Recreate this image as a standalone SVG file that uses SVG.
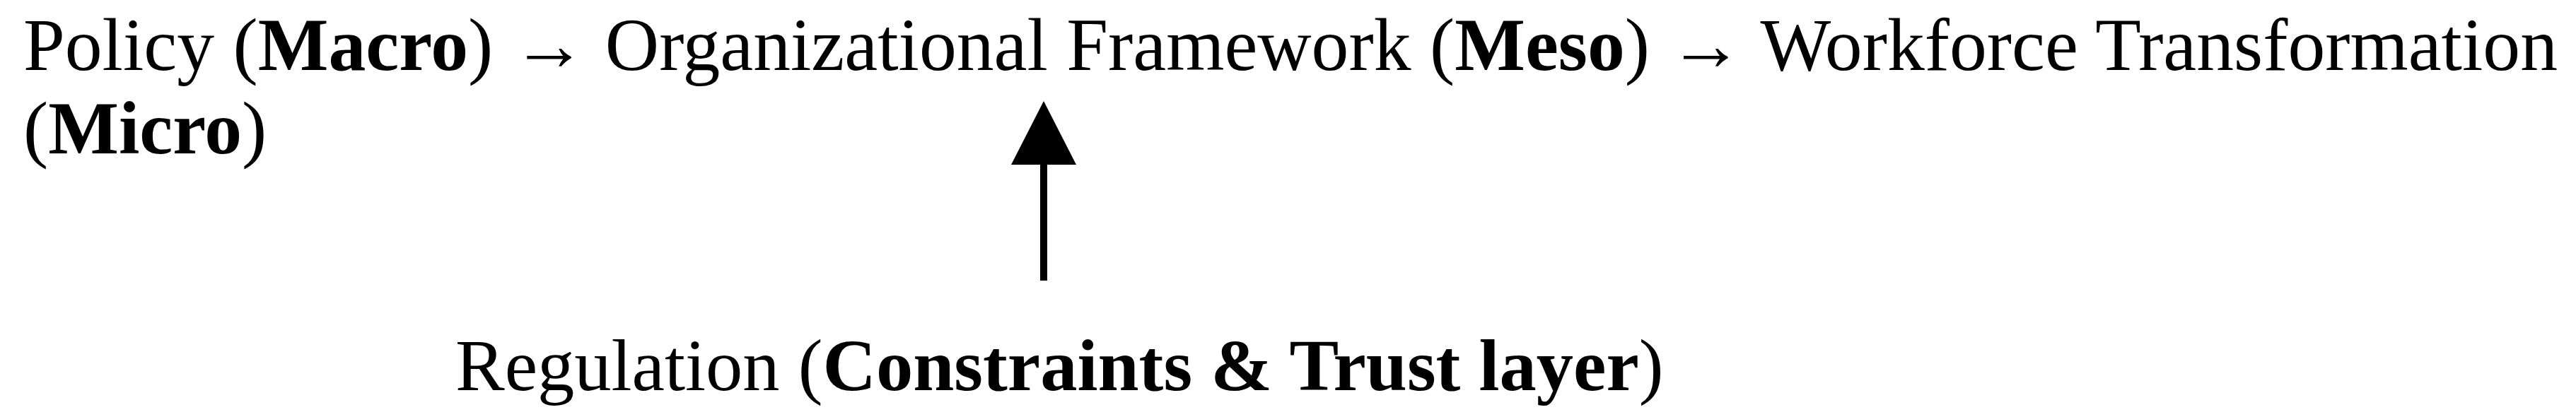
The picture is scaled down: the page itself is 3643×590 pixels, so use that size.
<svg xmlns="http://www.w3.org/2000/svg" width="3643" height="590" viewBox="0 0 3643 590">
  <style>
    .t { font-family: "Liberation Serif", "Times New Roman", serif; font-size: 105.7px; fill: #000; }
    .r { font-size: 104.5px; }
    .b { font-weight: bold; }
    .conn { stroke: #000; stroke-width: 10; fill: none; }
  </style>
  <defs>
    <marker id="head" markerUnits="userSpaceOnUse" markerWidth="92" markerHeight="94" refX="0" refY="46" orient="auto" viewBox="0 0 92 94">
      <path d="M0,0 L90,46 L0,92 Z" fill="#000"/>
    </marker>
  </defs>
  <rect width="3643" height="590" fill="#fff"/>
  <g id="flow-text">
    <text class="t" x="33" y="99">Policy (<tspan class="b">Macro</tspan>) → Organizational Framework (<tspan class="b">Meso</tspan>) → Workforce Transformation</text>
    <text class="t" x="33" y="217">(<tspan class="b">Micro</tspan>)</text>
  </g>
  <g id="regulation">
    <text class="t r" x="644" y="552">Regulation (<tspan class="b">Constraints &amp; Trust layer</tspan>)</text>
  </g>
  <g id="connectors">
    <line class="conn" x1="1476" y1="397" x2="1476" y2="233" marker-end="url(#head)"/>
  </g>
</svg>
